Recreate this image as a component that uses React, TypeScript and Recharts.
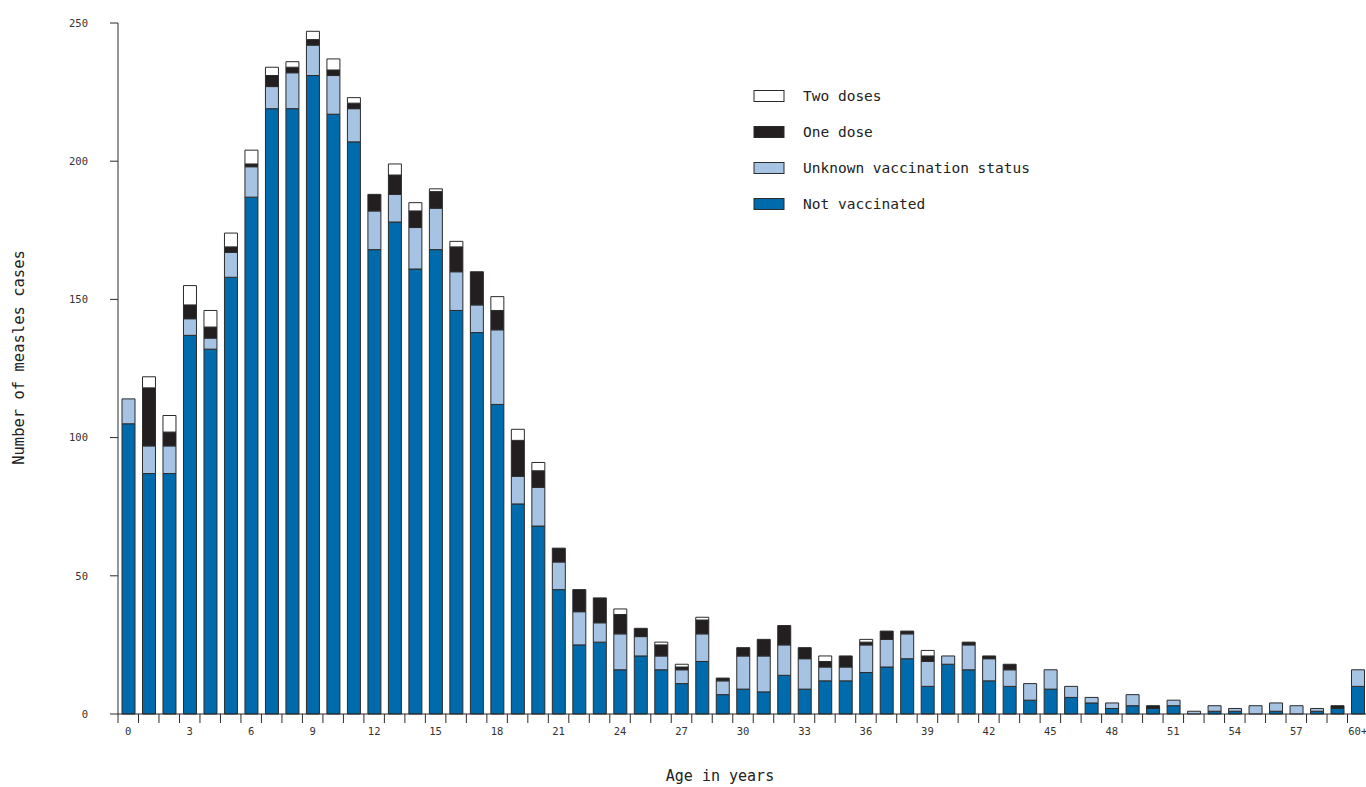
import React from 'react';
import { BarChart, Bar, XAxis, YAxis, Legend } from 'recharts';

const ageLabels: string[] = [
  '0','1','2','3','4','5','6','7','8','9','10','11','12','13','14','15','16','17','18','19',
  '20','21','22','23','24','25','26','27','28','29','30','31','32','33','34','35','36','37','38','39',
  '40','41','42','43','44','45','46','47','48','49','50','51','52','53','54','55','56','57','58','59','60+'
];

const notVaccinated: number[] = [
  105, 87, 87, 137, 132, 158, 187, 219, 219, 231, 217, 207, 168, 178, 161, 168, 146, 138, 112, 76,
  68, 45, 25, 26, 16, 21, 16, 11, 19, 7, 9, 8, 14, 9, 12, 12, 15, 17, 20, 10,
  18, 16, 12, 10, 5, 9, 6, 4, 2, 3, 2, 3, 0, 1, 1, 0, 1, 0, 1, 2, 10
];

const unknownStatus: number[] = [
  9, 10, 10, 6, 4, 9, 11, 8, 13, 11, 14, 12, 14, 10, 15, 15, 14, 10, 27, 10,
  14, 10, 12, 7, 13, 7, 5, 5, 10, 5, 12, 13, 11, 11, 5, 5, 10, 10, 9, 9,
  3, 9, 8, 6, 6, 7, 4, 2, 2, 4, 0, 2, 1, 2, 1, 3, 3, 3, 1, 0, 6
];

const oneDose: number[] = [
  0, 21, 5, 5, 4, 2, 1, 4, 2, 2, 2, 2, 6, 7, 6, 6, 9, 12, 7, 13,
  6, 5, 8, 9, 7, 3, 4, 1, 5, 1, 3, 6, 7, 4, 2, 4, 1, 3, 1, 2,
  0, 1, 1, 2, 0, 0, 0, 0, 0, 0, 1, 0, 0, 0, 0, 0, 0, 0, 0, 1, 0
];

const twoDoses: number[] = [
  0, 4, 6, 7, 6, 5, 5, 3, 2, 3, 4, 2, 0, 4, 3, 1, 2, 0, 5, 4,
  3, 0, 0, 0, 2, 0, 1, 1, 1, 0, 0, 0, 0, 0, 2, 0, 1, 0, 0, 2,
  0, 0, 0, 0, 0, 0, 0, 0, 0, 0, 0, 0, 0, 0, 0, 0, 0, 0, 0, 0, 0
];

const yTicks: number[] = [0, 50, 100, 150, 200, 250];

const legendOrder: string[] = ['Two doses', 'One dose', 'Unknown vaccination status', 'Not vaccinated'];

const data = ageLabels.map((age, i) => ({
  age,
  notVaccinated: notVaccinated[i],
  unknownStatus: unknownStatus[i],
  oneDose: oneDose[i],
  twoDoses: twoDoses[i],
}));

const FONT = '"DejaVu Sans Mono", monospace';
const INK = '#2b2b2b';

const XTick = (props: any) => {
  const { x, y, payload, index } = props;
  const half = payload && typeof payload.offset === 'number' ? payload.offset : 10.25;
  return (
    <g>
      <line x1={x - half} x2={x - half} y1={y} y2={y + 9} stroke={INK} strokeWidth={1} />
      {index % 3 === 0 && (
        <text x={x} y={y + 21} textAnchor="middle" fontSize={10.5} fill="#333" fontFamily={FONT}>
          {payload.value}
        </text>
      )}
    </g>
  );
};

const LegendContent = (props: any) => {
  const items = [...(props.payload || [])].sort(
    (a: any, b: any) => legendOrder.indexOf(a.value) - legendOrder.indexOf(b.value)
  );
  return (
    <div style={{ fontFamily: FONT }}>
      {items.map((it: any) => (
        <div key={it.value} style={{ display: 'flex', alignItems: 'center', height: 36 }}>
          <svg width={34} height={14} style={{ display: 'block' }}>
            <rect x={1} y={1.5} width={30} height={11} fill={it.color} stroke={INK} strokeWidth={1} />
          </svg>
          <span style={{ marginLeft: 16, fontSize: 14.5, color: '#222', lineHeight: '14px' }}>{it.value}</span>
        </div>
      ))}
    </div>
  );
};

export default function App() {
  return (
    <div style={{ position: 'absolute', left: 0, top: 0, width: 1366, height: 787, overflow: 'hidden', background: '#fff' }}>
      <BarChart
        width={1372}
        height={790}
        data={data}
        margin={{ top: 23, right: 4, left: 0, bottom: 0 }}
        barSize={13}
      >
        <XAxis
          dataKey="age"
          type="category"
          interval={0}
          height={76}
          tickLine={false}
          tickSize={0}
          tickMargin={0}
          axisLine={{ stroke: INK, strokeWidth: 1 }}
          tick={<XTick />}
          label={(p: any) => {
            const vb = p.viewBox || { x: 118, y: 714, width: 1250, height: 76 };
            return (
              <text x={vb.x + vb.width / 2 - 23} y={vb.y + 67} textAnchor="middle" fontSize={15} fill="#222" fontFamily={FONT}>
                Age in years
              </text>
            );
          }}
        />
        <YAxis
          type="number"
          domain={[0, 250]}
          ticks={yTicks}
          width={118}
          tickSize={8}
          tickMargin={22}
          tickLine={{ stroke: INK, strokeWidth: 1 }}
          axisLine={{ stroke: INK, strokeWidth: 1 }}
          tick={{ fontSize: 10.5, fill: '#333', fontFamily: FONT }}
          label={(p: any) => {
            const vb = p.viewBox || { x: 0, y: 23, width: 118, height: 691 };
            const cx = vb.x + 19;
            const cy = vb.y + vb.height / 2 - 11;
            return (
              <text x={cx} y={cy} transform={`rotate(-90 ${cx} ${cy})`} textAnchor="middle" dominantBaseline="central" fontSize={15.5} fill="#222" fontFamily={FONT}>
                Number of measles cases
              </text>
            );
          }}
        />
        <Legend
          layout="vertical"
          align="center"
          verticalAlign="middle"
          content={<LegendContent />}
          wrapperStyle={{ left: 753, top: 78, width: 320 }}
        />
        <Bar dataKey="notVaccinated" name="Not vaccinated" stackId="a" fill="#006bac" stroke={INK} strokeWidth={1} isAnimationActive={false} />
        <Bar dataKey="unknownStatus" name="Unknown vaccination status" stackId="a" fill="#a6c3e3" stroke={INK} strokeWidth={1} isAnimationActive={false} />
        <Bar dataKey="oneDose" name="One dose" stackId="a" fill="#231f20" stroke={INK} strokeWidth={1} isAnimationActive={false} />
        <Bar dataKey="twoDoses" name="Two doses" stackId="a" fill="#ffffff" stroke={INK} strokeWidth={1} isAnimationActive={false} />
      </BarChart>
    </div>
  );
}
